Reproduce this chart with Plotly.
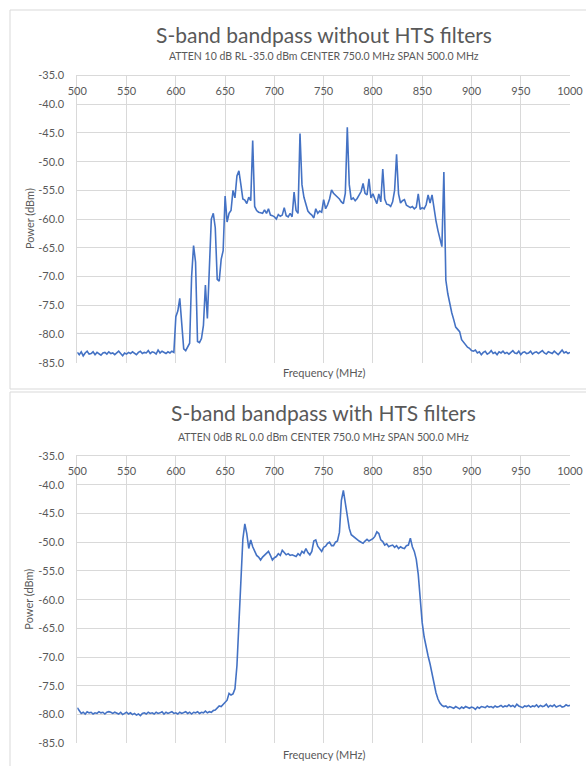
import numpy as np
import plotly.graph_objects as go

# Frequency sweep (MHz), 2 MHz steps
freq = list(range(500, 1001, 2))

power_without = [
    -83.2, -83.6, -83.1, -83.8, -83.3, -83.0, -83.5, -83.4, -83.1, -83.6,
    -83.2, -83.4, -83.7, -83.3, -83.2, -83.5, -83.1, -83.4, -83.3, -83.6,
    -83.2, -83.0, -83.4, -83.8, -83.3, -83.5, -83.2, -83.4, -83.1, -83.3,
    -83.6, -83.2, -83.0, -83.4, -83.2, -83.3, -82.9, -83.4, -83.1, -83.2,
    -83.5, -82.8, -83.3, -83.0, -83.2, -83.4, -83.1, -83.3, -83.0, -83.2,
    -77.0, -76.0, -73.8, -79.0, -82.6, -82.9, -82.3, -81.6, -70.0, -64.6,
    -67.5, -81.3, -81.5, -80.8, -78.5, -71.5, -77.3, -69.0, -60.0, -59.0,
    -61.5, -70.5, -70.8, -67.0, -65.5, -56.0, -60.5, -59.0, -58.5, -55.0,
    -56.3, -52.5, -51.6, -54.0, -56.5, -56.7, -57.3, -56.2, -56.8, -46.3,
    -57.8, -58.5, -58.8, -58.9, -59.0, -58.4, -59.0, -58.2, -59.3, -59.4,
    -59.6, -60.0, -59.2, -59.5, -59.3, -58.0, -59.4, -59.6, -59.0, -59.6,
    -55.3, -58.5, -59.0, -45.1, -54.0, -56.2, -57.5, -58.6, -59.0, -59.3,
    -59.8, -58.2, -59.0, -58.6, -58.8, -56.6, -58.2, -57.5, -56.5, -54.9,
    -55.5, -55.8, -56.2, -56.5, -57.0, -57.3, -55.5, -44.0, -54.0, -56.6,
    -56.3, -56.8, -56.4, -55.8, -55.2, -53.8, -55.5, -55.8, -53.0, -56.3,
    -55.6, -56.5, -57.3, -55.6, -57.0, -51.3, -56.5, -57.4, -57.5, -57.8,
    -57.0, -55.0, -48.7, -55.6, -57.2, -56.8, -56.6, -57.6, -57.8, -58.0,
    -57.8, -58.2, -57.9, -55.6, -58.3, -58.0, -58.2, -57.5, -55.8, -57.2,
    -55.8, -58.5, -60.3, -62.0, -63.5, -64.8, -51.8, -70.6, -73.0, -75.0,
    -76.3, -77.5, -78.8, -79.2, -79.6, -81.0, -81.5, -82.0, -82.3, -82.5,
    -82.9, -83.0, -82.8, -83.3, -83.1, -83.6, -83.2, -83.0, -83.5, -83.3,
    -82.9, -83.4, -83.2, -83.6, -83.1, -83.3, -83.0, -83.4, -83.2, -83.5,
    -83.1, -82.9, -83.3, -83.4, -83.0, -83.6, -83.2, -83.1, -83.4, -83.3,
    -83.0, -83.5, -83.2, -83.1, -83.4, -83.2, -82.9, -83.3, -83.5, -83.1,
    -83.2, -83.4, -83.0, -83.3, -83.6, -83.2, -82.8, -83.3, -83.1, -83.4,
    -83.2,
]

power_with = [
    -78.8, -79.4, -79.8, -79.6, -79.9, -79.5, -79.7, -79.6, -79.9, -79.7,
    -79.8, -79.5, -79.7, -79.6, -79.9, -79.6, -79.5, -79.6, -79.8, -79.6,
    -79.7, -79.9, -79.6, -80.0, -79.8, -79.6, -79.9, -79.7, -80.0, -79.8,
    -80.1, -79.9, -80.2, -79.8, -79.7, -79.9, -79.6, -79.8, -79.7, -79.9,
    -79.6, -79.8, -79.7, -79.5, -79.9, -79.6, -79.8, -79.7, -79.5, -79.8,
    -79.7, -79.9, -79.6, -79.8, -79.7, -79.5, -79.8, -79.6, -79.9, -79.6,
    -79.7, -79.5, -79.8, -79.6, -79.7, -79.4, -79.7, -79.5, -79.6, -79.3,
    -79.2, -78.9, -78.5, -78.6, -78.2, -77.8, -77.5, -76.3, -76.6, -76.4,
    -75.5, -71.5, -63.5, -56.0, -49.5, -46.8, -48.5, -51.1, -49.6, -50.8,
    -51.7, -52.3, -52.6, -53.1, -52.6, -52.2, -52.0, -51.6, -52.3, -53.1,
    -52.7, -52.5, -52.0, -52.3, -51.4, -51.8, -52.2, -52.0, -52.3, -52.2,
    -52.4, -52.5, -52.0, -52.3, -51.6, -51.9, -51.1, -51.8, -52.2, -51.6,
    -49.8, -49.6, -50.7, -51.2, -51.6, -50.9, -50.7, -50.2, -50.0, -50.6,
    -50.6, -50.0, -49.8, -48.3, -42.7, -41.0, -43.2, -46.0, -47.6, -48.7,
    -49.0, -49.3, -49.5, -49.8, -50.0, -50.2, -49.8, -49.5, -49.8, -49.6,
    -49.4, -49.0, -48.2, -48.5, -49.6, -49.9, -50.5, -50.3, -50.8, -50.6,
    -50.5, -50.9, -50.6, -51.1, -50.8, -51.0, -51.1, -50.6, -50.5, -49.3,
    -50.8, -51.6, -53.0, -55.6, -60.5, -64.0, -66.5, -68.4, -69.8, -71.2,
    -73.0, -74.8, -76.2, -77.3, -78.0, -78.4, -78.6, -78.5, -78.8, -78.6,
    -78.7, -78.9, -78.6, -78.8, -79.0, -78.7, -78.9, -78.6, -78.8, -78.9,
    -78.7, -78.8, -79.1, -78.7, -78.9, -78.6, -78.7, -78.8, -78.5, -78.7,
    -78.6, -78.8, -78.5, -78.7, -78.6, -78.4, -78.7, -78.5, -78.6, -78.3,
    -78.6, -78.4, -78.7, -78.2, -78.5, -78.6, -78.8, -78.5, -78.6, -78.4,
    -78.7, -78.5, -78.6, -78.3, -78.7, -78.4, -78.6, -78.5, -78.2, -78.7,
    -78.4, -78.6, -78.3, -78.7, -78.5, -78.4, -78.7, -78.6, -78.3, -78.5,
    -78.4,
]

x_ticks = [500, 550, 600, 650, 700, 750, 800, 850, 900, 950, 1000]
y_ticks = [-35, -40, -45, -50, -55, -60, -65, -70, -75, -80, -85]
y_ticktext = ["%.1f" % v for v in y_ticks]

titles = ["S-band bandpass without HTS filters", "S-band bandpass with HTS filters"]
subtitles = ["ATTEN 10 dB RL -35.0 dBm CENTER 750.0 MHz SPAN 500.0 MHz",
             "ATTEN 0dB RL 0.0 dBm CENTER 750.0 MHz SPAN 500.0 MHz"]

W, H = 586, 766
FONT = "Lato"
TXT = "#595959"
GRID = "#D9D9D9"
LINE = "#4472C4"

def py(px):
    return 1 - px / H

x_dom = [77.3 / W, 570.0 / W]
y_doms = [[py(362.7), py(75.5)], [py(743.3), py(456.0)]]
title_y = [35, 412]
sub_y = [56, 437]
xtitle_y = [372, 754]
boxes = [(10, 10, 389), (10, 392, 790)]

fig = go.Figure()
layout = dict(width=W, height=H, margin=dict(l=0, r=0, t=0, b=0, autoexpand=False),
              paper_bgcolor="white", plot_bgcolor="white", showlegend=False,
              font=dict(family=FONT, color=TXT))
annotations = []
shapes = []

for i, (ys) in enumerate([power_without, power_with]):
    xa = "x" if i == 0 else "x2"
    ya = "y" if i == 0 else "y2"
    fig.add_trace(go.Scatter(x=freq, y=ys, mode="lines", xaxis=xa, yaxis=ya,
                             line=dict(color=LINE, width=1.6)))
    kx = "xaxis" if i == 0 else "xaxis2"
    ky = "yaxis" if i == 0 else "yaxis2"
    layout[kx] = dict(domain=x_dom, range=[500, 1000], side="top",
                      anchor=ya, tickvals=x_ticks, ticktext=[str(v) for v in x_ticks],
                      ticklabelposition="inside", ticklabelstandoff=11,
                      ticklabeloverflow="allow", automargin=False,
                      showgrid=True, gridcolor=GRID, gridwidth=1,
                      showline=True, linecolor=GRID, linewidth=1,
                      zeroline=False, tickfont=dict(size=11, color=TXT, family=FONT))
    layout[ky] = dict(domain=y_doms[i], range=[-85, -35], anchor=xa,
                      tickvals=y_ticks, ticktext=y_ticktext,
                      ticklabelstandoff=10, ticklabeloverflow="allow", automargin=False,
                      showgrid=True, gridcolor=GRID, gridwidth=1,
                      showline=True, linecolor=GRID, linewidth=1,
                      zeroline=False, tickfont=dict(size=11, color=TXT, family=FONT))
    annotations.append(dict(text=titles[i], x=323.5 / W, y=py(title_y[i]), xref="paper",
                            yref="paper", showarrow=False, xanchor="center", yanchor="middle",
                            font=dict(size=21, color=TXT, family=FONT)))
    annotations.append(dict(text=subtitles[i], x=323.5 / W, y=py(sub_y[i]), xref="paper",
                            yref="paper", showarrow=False, xanchor="center", yanchor="middle",
                            font=dict(size=10.5, color=TXT, family=FONT)))
    annotations.append(dict(text="Frequency (MHz)", x=323.5 / W, y=py(xtitle_y[i]), xref="paper",
                            yref="paper", showarrow=False, xanchor="center", yanchor="middle",
                            font=dict(size=11, color=TXT, family=FONT)))
    ymid = (y_doms[i][0] + y_doms[i][1]) / 2
    annotations.append(dict(text="Power (dBm)", x=29 / W, y=ymid, xref="paper",
                            yref="paper", showarrow=False, xanchor="center", yanchor="middle",
                            textangle=-90, font=dict(size=11, color=TXT, family=FONT)))
    bx, by0, by1 = boxes[i]
    shapes.append(dict(type="rect", xref="paper", yref="paper", x0=bx / W, x1=1.05,
                       y0=py(by1), y1=py(by0), line=dict(color=GRID, width=1),
                       fillcolor="rgba(0,0,0,0)", layer="below"))

layout["annotations"] = annotations
layout["shapes"] = shapes
fig.update_layout(**layout)
fig.write_html("out.html")
